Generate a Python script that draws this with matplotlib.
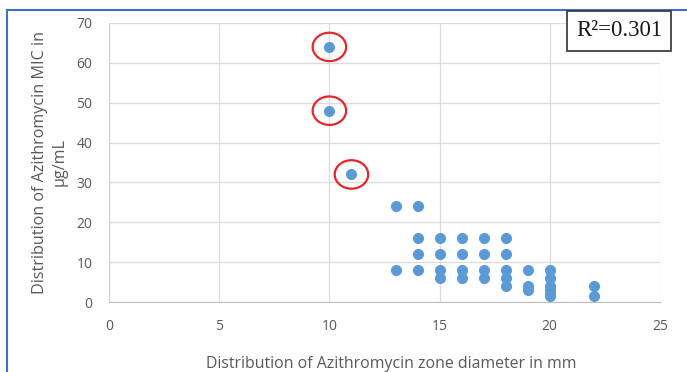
import matplotlib
matplotlib.use("Agg")
import matplotlib.pyplot as plt
import numpy as np
from matplotlib.path import Path
from matplotlib.lines import Line2D

# ---- data ----
zone_mm = [10, 10, 11,
           13, 13,
           14, 14, 14, 14,
           15, 15, 15, 15,
           16, 16, 16, 16,
           17, 17, 17, 17,
           18, 18, 18, 18, 18,
           19, 19, 19,
           20, 20, 20, 20, 20, 20,
           22, 22]
mic = [64, 48, 32,
       24, 8,
       24, 16, 12, 8,
       16, 12, 8, 6,
       16, 12, 8, 6,
       16, 12, 8, 6,
       16, 12, 8, 6, 4,
       8, 4, 3,
       8, 6, 4, 3, 2, 1.5,
       4, 1.5]
highlight_x = [10, 10, 11]
highlight_y = [64, 48, 32]
x_ticks = [0, 5, 10, 15, 20, 25]
y_ticks = [0, 10, 20, 30, 40, 50, 60, 70]
r2_text = "R²=0.301"
x_label = "Distribution of Azithromycin zone diameter in mm"
y_label = "Distribution of Azithromycin MIC in\nμg/mL"

plt.rcParams['font.family'] = ['Open Sans', 'DejaVu Sans']

fig = plt.figure(figsize=(6.87, 3.72), dpi=100)
fig.patch.set_facecolor('white')
ax = fig.add_axes([109/687, 1-302/372, (660-109)/687, (302-23)/372])

ax.scatter(zone_mm, mic, s=64, color='#5B9BD5', zorder=3, linewidths=0)

# ellipse marker for highlight rings
t = np.linspace(0, 2*np.pi, 100)
verts = np.column_stack([np.cos(t), 0.85*np.sin(t)])
ell = Path(verts, closed=True)
ax.scatter(highlight_x, highlight_y, s=580, marker=ell, facecolors='none',
           edgecolors='#E8262A', linewidths=1.6, zorder=4)

ax.set_xlim(0, 25)
ax.set_ylim(0, 70)
ax.set_xticks(x_ticks)
ax.set_yticks(y_ticks)
ax.grid(True, color='#DCDCDC', linewidth=0.9, zorder=0)
ax.set_axisbelow(True)
for s in ['top', 'right']:
    ax.spines[s].set_visible(False)
ax.spines['left'].set_color('#D0D0D0')
ax.spines['bottom'].set_color('#BFBFBF')
ax.tick_params(length=0, labelsize=10, labelcolor='#595959')
ax.tick_params(axis='x', pad=12)
ax.tick_params(axis='y', pad=12)

fig.text(391/687, 1-364/372, x_label, ha='center', va='center',
         fontsize=11.4, color='#595959')
fig.text(50/687, 1-162/372, y_label, ha='center', va='center',
         fontsize=11.6, color='#595959', rotation=90, linespacing=1.25)

fig.text(619/687, 1-31/372, r2_text, ha='center', va='center',
         fontsize=16.5, family='Liberation Serif', color='#1A1A1A',
         bbox=dict(boxstyle='square,pad=0.4', facecolor='white',
                   edgecolor='#404040', linewidth=1.3))

# blue outer frame (top and left)
top = 1-10/372
left = 7/687
fig.add_artist(Line2D([left, 1], [top, top], color='#3E6FC4', linewidth=1.5,
                      transform=fig.transFigure))
fig.add_artist(Line2D([left, left], [0, top], color='#3E6FC4', linewidth=1.5,
                      transform=fig.transFigure))

fig.savefig('out.png', dpi=100, facecolor='white')
